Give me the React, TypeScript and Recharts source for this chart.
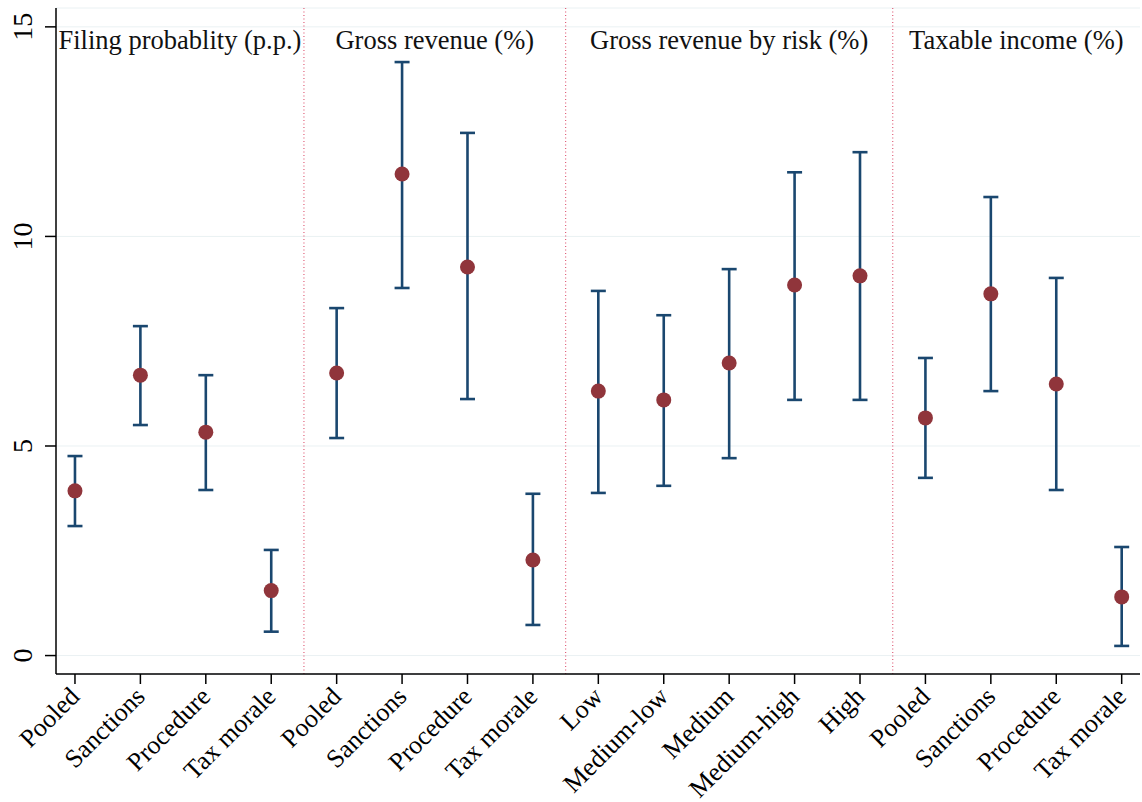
import {
  CartesianGrid,
  ComposedChart,
  ErrorBar,
  ReferenceArea,
  ReferenceLine,
  Scatter,
  XAxis,
  YAxis,
} from 'recharts';

// Point estimates with 95% confidence intervals, one entry per treatment arm
const categories = [
  'Pooled', 'Sanctions', 'Procedure', 'Tax morale',
  'Pooled', 'Sanctions', 'Procedure', 'Tax morale',
  'Low', 'Medium-low', 'Medium', 'Medium-high', 'High',
  'Pooled', 'Sanctions', 'Procedure', 'Tax morale',
];
const estimates = [3.93, 6.69, 5.33, 1.55, 6.74, 11.49, 9.27, 2.28, 6.31, 6.1, 6.98, 8.84, 9.06, 5.67, 8.63, 6.48, 1.4];
const lowerCI = [3.09, 5.5, 3.95, 0.57, 5.19, 8.77, 6.12, 0.73, 3.88, 4.05, 4.71, 6.1, 6.1, 4.24, 6.31, 3.95, 0.23];
const upperCI = [4.76, 7.86, 6.69, 2.52, 8.29, 14.16, 12.47, 3.86, 8.7, 8.12, 9.22, 11.53, 12.01, 7.1, 10.94, 9.01, 2.59];

const panelTitles = ['Filing probablity (p.p.)', 'Gross revenue (%)', 'Gross revenue by risk (%)', 'Taxable income (%)'];
const panelBreaks = [4.5, 8.5, 13.5];
const yTicks = [0, 5, 10, 15];

const X_DOMAIN: [number, number] = [0.71, 17.28];
const Y_DOMAIN: [number, number] = [-0.44, 15.45];

const NAVY = '#1a476f';
const MAROON = '#90353b';
const FONT = 'Liberation Serif';

const rows = estimates.map((est, i) => ({
  x: i + 1,
  y: est,
  ci: [est - lowerCI[i], upperCI[i] - est],
}));

const panelEdges = [X_DOMAIN[0], ...panelBreaks, X_DOMAIN[1]];

function XTick({ x, y, payload }: any) {
  return (
    <text
      transform={`translate(${x + 6}, ${y + 12}) rotate(-45)`}
      textAnchor="end"
      style={{ fontFamily: FONT, fontSize: 26 }}
      fill="#000"
    >
      {categories[payload.value - 1]}
    </text>
  );
}

function YTick({ x, y, payload }: any) {
  return (
    <text
      transform={`translate(${x - 21}, ${y}) rotate(-90)`}
      textAnchor="middle"
      dominantBaseline="central"
      style={{ fontFamily: FONT, fontSize: 28 }}
      fill="#000"
    >
      {payload.value}
    </text>
  );
}

function Dot({ cx, cy }: any) {
  return <circle cx={cx} cy={cy} r={7.5} fill={MAROON} />;
}

export default function App() {
  return (
    <div style={{ position: 'absolute', left: 0, top: 0, background: '#fff', fontFamily: FONT }}>
      <ComposedChart width={1142} height={802} margin={{ top: 8, right: 2, bottom: 0, left: 0 }}>
        <CartesianGrid vertical={false} stroke="#eaf1f3" strokeWidth={1} />
        <XAxis
          type="number"
          dataKey="x"
          domain={X_DOMAIN}
          ticks={categories.map((_, i) => i + 1)}
          interval={0}
          height={128}
          tickSize={10}
          tick={<XTick />}
          axisLine={{ stroke: '#000', strokeWidth: 1.5 }}
          tickLine={{ stroke: '#000', strokeWidth: 1.5 }}
          allowDataOverflow
        />
        <YAxis
          type="number"
          domain={Y_DOMAIN}
          ticks={yTicks}
          width={56}
          tickSize={11}
          tick={<YTick />}
          axisLine={{ stroke: '#000', strokeWidth: 1.5 }}
          tickLine={{ stroke: '#000', strokeWidth: 1.5 }}
          allowDataOverflow
        />
        {panelBreaks.map(b => (
          <ReferenceLine key={b} x={b} stroke="#e0607a" strokeWidth={1.2} strokeDasharray="1 2.5" />
        ))}
        {panelTitles.map((t, i) => (
          <ReferenceArea
            key={t}
            x1={panelEdges[i]}
            x2={panelEdges[i + 1]}
            y1={14.25}
            y2={15.15}
            fill="none"
            stroke="none"
            label={{ value: t, position: 'center', style: { fontFamily: FONT, fontSize: 26.5 }, fill: '#111' }}
          />
        ))}
        <Scatter data={rows} dataKey="y" shape={<Dot />} isAnimationActive={false}>
          <ErrorBar dataKey="ci" direction="y" width={7.5} stroke={NAVY} strokeWidth={2.6} isAnimationActive={false} />
        </Scatter>
      </ComposedChart>
    </div>
  );
}
